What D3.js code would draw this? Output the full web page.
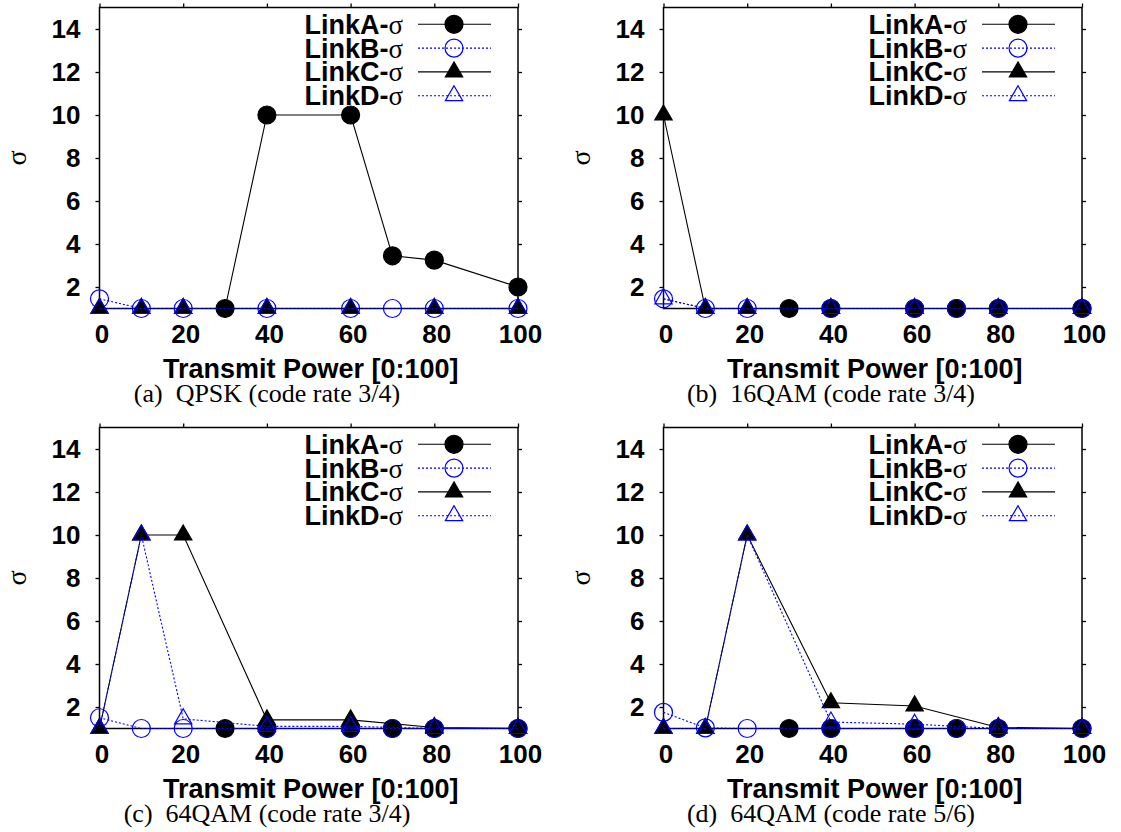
<!DOCTYPE html>
<html lang="en">
<head>
    <meta charset="UTF-8">
    <title>Link sigma vs transmit power</title>
    <style>
        body { margin: 0; background: #fff; }
    </style>
</head>
<script src="https://d3js.org/d3.v7.min.js" charset="UTF-8"></script>
<body>
<script>

    // x positions used by each link (transmit power)
    var xLinkA = [30, 40, 60, 70, 80, 100];
    var xLinkB = [0, 10, 20, 40, 60, 70, 80, 100];
    var xLinkC = [0, 10, 20, 40, 60, 80, 100];
    var xLinkD = [0, 10, 20, 40, 60, 80, 100];

    // (a) QPSK 3/4
    var qpskA = [1, 10, 10, 3.45, 3.25, 2];
    var qpskB = [1.45, 1, 1, 1, 1, 1, 1, 1];
    var qpskC = [1, 1, 1, 1, 1, 1, 1];
    var qpskD = [1, 1, 1, 1, 1, 1, 1];

    // (b) 16QAM 3/4
    var qam16A = [1, 1, 1, 1, 1, 1];
    var qam16B = [1.45, 1, 1, 1, 1, 1, 1, 1];
    var qam16C = [10, 1, 1, 1, 1, 1, 1];
    var qam16D = [1.45, 1, 1, 1, 1, 1, 1];

    // (c) 64QAM 3/4
    var qam64A = [1, 1, 1, 1, 1, 1];
    var qam64B = [1.5, 1, 1, 1, 1, 1, 1, 1];
    var qam64C = [1, 10, 10, 1.4, 1.4, 1.05, 1];
    var qam64D = [1, 10, 1.45, 1.1, 1.1, 1, 1];

    // (d) 64QAM 5/6
    var qam56A = [1, 1, 1, 1, 1, 1];
    var qam56B = [1.75, 1.03, 1, 1, 1, 1, 1, 1];
    var qam56C = [1, 1, 10, 2.2, 2.05, 1.05, 1];
    var qam56D = [1, 1, 10, 1.3, 1.2, 1, 1];

    var xTicks = [0, 20, 40, 60, 80, 100];
    var yTicks = [2, 4, 6, 8, 10, 12, 14];
    var linkNames = ["LinkA-", "LinkB-", "LinkC-", "LinkD-"];
    var captions = ["(a)\u2002QPSK (code rate 3/4)", "(b)\u200216QAM (code rate 3/4)",
                    "(c)\u200264QAM (code rate 3/4)", "(d)\u200264QAM (code rate 5/6)"];
    var xTitle = "Transmit Power [0:100]";

    var panelData = [
        [qpskA, qpskB, qpskC, qpskD],
        [qam16A, qam16B, qam16C, qam16D],
        [qam64A, qam64B, qam64C, qam64D],
        [qam56A, qam56B, qam56C, qam56D]
    ];
    var xSets = [xLinkA, xLinkB, xLinkC, xLinkD];

    var styles = [
        {color: "#000", dash: null, symbol: d3.symbolCircle, size: 254, filled: true},
        {color: "#0000ff", dash: "2,2", symbol: d3.symbolCircle, size: 254, filled: false},
        {color: "#000", dash: null, symbol: d3.symbolTriangle, size: 130, filled: true},
        {color: "#0000ff", dash: "2,2", symbol: d3.symbolTriangle, size: 130, filled: false}
    ];

    var origins = [[99.5, 7.5], [663.5, 7.5], [99.5, 427.5], [663.5, 427.5]];
    var width = 418.5, height = 301;
    var sans = "'Liberation Sans', Arial, sans-serif";
    var serif = "'Liberation Serif', 'Times New Roman', serif";

    const svg = d3.select("body")
        .append("svg")
        .attr("width", 1121)
        .attr("height", 832);

    var x = d3.scaleLinear().domain([0, 100]).range([0, width]);
    var y = d3.scaleLinear().domain([1, 15]).range([height, 0]);

    panelData.forEach(function (series, p) {
        var g = svg.append("g")
            .attr("transform", "translate(" + origins[p][0] + "," + origins[p][1] + ")");

        // axes
        var left = g.append("g")
            .call(d3.axisLeft(y).tickValues(yTicks).tickSize(4).tickPadding(15));
        left.selectAll("text").attr("font-family", sans).attr("font-weight", "bold")
            .attr("font-size", 26).attr("fill", "#000");
        g.append("g").attr("transform", "translate(" + width + ",0)")
            .call(d3.axisRight(y).tickValues(yTicks).tickSize(4).tickFormat(""));
        g.append("g")
            .call(d3.axisTop(x).tickValues(xTicks).tickSize(4).tickFormat(""));
        var bottom = g.append("g").attr("transform", "translate(0," + height + ")")
            .call(d3.axisBottom(x).tickValues(xTicks).tickSize(0).tickPadding(16));
        bottom.selectAll("text").attr("font-family", sans).attr("font-weight", "bold")
            .attr("font-size", 26).attr("fill", "#000").attr("dx", 2);
        g.selectAll(".domain").remove();
        g.selectAll(".tick line").attr("stroke", "#000").attr("stroke-width", 1.3);

        g.append("rect")
            .attr("width", width)
            .attr("height", height)
            .attr("fill", "none")
            .attr("stroke", "#000")
            .attr("stroke-width", 1.5);

        // titles
        g.append("text")
            .attr("x", width / 2 + 2)
            .attr("y", 370.5)
            .attr("text-anchor", "middle")
            .attr("font-family", sans)
            .attr("font-weight", "bold")
            .attr("font-size", 27)
            .text(xTitle);

        g.append("text")
            .attr("x", 167.5)
            .attr("y", 394.5)
            .attr("text-anchor", "middle")
            .attr("font-family", serif)
            .attr("font-size", 26)
            .text(captions[p]);

        g.append("text")
            .attr("transform", "translate(-74," + (height / 2) + ") rotate(-90)")
            .attr("text-anchor", "middle")
            .attr("font-family", serif)
            .attr("font-size", 28)
            .text("\u03c3");

        // data
        var line = d3.line().x(d => x(d[0])).y(d => y(d[1]));
        series.forEach(function (vals, i) {
            var st = styles[i];
            var pts = xSets[i].map((xv, k) => [xv, vals[k]]);
            g.append("path")
                .datum(pts)
                .attr("d", line)
                .attr("fill", "none")
                .attr("stroke", st.color)
                .attr("stroke-width", 1.1)
                .attr("stroke-dasharray", st.dash);
            g.append("g").selectAll("path")
                .data(pts)
                .join("path")
                .attr("transform", d => "translate(" + x(d[0]) + "," + y(d[1]) + ")")
                .attr("d", d3.symbol().type(st.symbol).size(st.size))
                .attr("fill", st.filled ? st.color : "none")
                .attr("stroke", st.color)
                .attr("stroke-width", 1.2);
        });

        // legend
        var leg = g.append("g");
        linkNames.forEach(function (name, i) {
            var st = styles[i];
            var cy = 16.8 + i * 23.8;
            var t = leg.append("text")
                .attr("x", 303.5)
                .attr("y", cy + 9.5)
                .attr("text-anchor", "end")
                .attr("font-size", 27);
            t.append("tspan").attr("font-family", sans).attr("font-weight", "bold").text(name);
            t.append("tspan").attr("font-family", serif).text("\u03c3");
            leg.append("line")
                .attr("x1", 318.5).attr("x2", 391.5)
                .attr("y1", cy).attr("y2", cy)
                .attr("stroke", st.color)
                .attr("stroke-width", 1.1)
                .attr("stroke-dasharray", st.dash);
            leg.append("path")
                .attr("transform", "translate(354.5," + cy + ")")
                .attr("d", d3.symbol().type(st.symbol).size(st.size))
                .attr("fill", st.filled ? st.color : "none")
                .attr("stroke", st.color)
                .attr("stroke-width", 1.2);
        });
    });

</script>
</body>
</html>
